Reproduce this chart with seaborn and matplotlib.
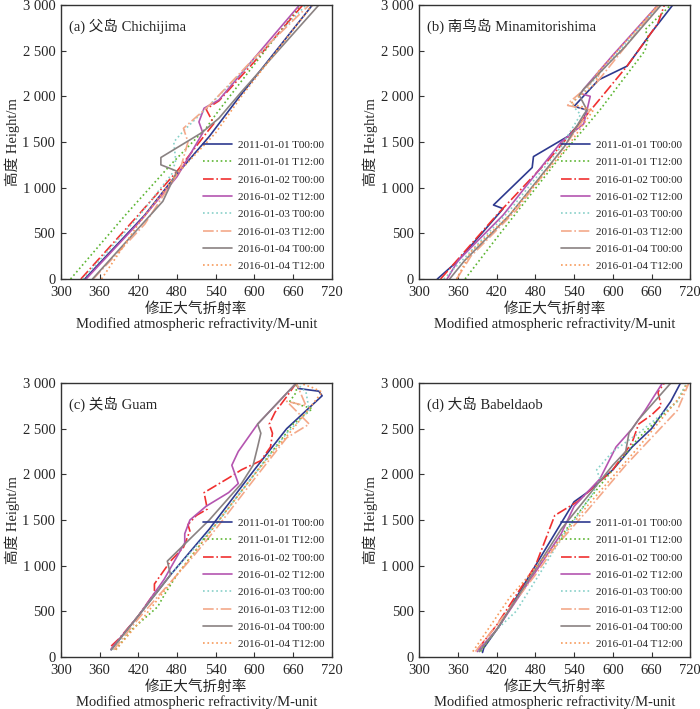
import numpy as np
import pandas as pd
import matplotlib
matplotlib.use('Agg')
import matplotlib.pyplot as plt
import seaborn as sns

sns.set_style('ticks')
plt.rcParams['font.family'] = ['Liberation Serif', 'Noto Sans CJK SC', 'DejaVu Sans']

times = ['2011-01-01 T00:00', '2011-01-01 T12:00', '2016-01-02 T00:00', '2016-01-02 T12:00',
         '2016-01-03 T00:00', '2016-01-03 T12:00', '2016-01-04 T00:00', '2016-01-04 T12:00']
colors = ['#2e3a8f', '#5cb531', '#f03030', '#b455b0', '#86d0c8', '#f4a98a', '#8a8282', '#f79a5a']
styles = ['-', ':', '-.', '-', ':', '-.', '-', ':']

titles = ['(a) 父岛 Chichijima', '(b) 南鸟岛 Minamitorishima', '(c) 关岛 Guam', '(d) 大岛 Babeldaob']

# (a) Chichijima: M-unit / height per sounding
chichijima_m = [
    [337, 430, 480, 530, 575, 600, 690],
    [315, 400, 470, 525, 540, 600, 672],
    [331, 420, 480, 528, 537, 525, 545, 600, 675],
    [339, 425, 480, 520, 514, 522, 545, 600, 670],
    [334, 420, 472, 478, 475, 490, 530, 600, 680],
    [350, 430, 485, 497, 490, 530, 600, 685],
    [349, 458, 480, 455, 455, 518, 545, 580, 700],
    [363, 420, 480, 540, 580, 690],
]
chichijima_h = [
    [0, 700, 1150, 1560, 1980, 2200, 3000],
    [0, 700, 1250, 1650, 1800, 2350, 3000],
    [0, 700, 1180, 1620, 1700, 1860, 1950, 2380, 3000],
    [0, 650, 1120, 1600, 1720, 1870, 1960, 2420, 3000],
    [0, 680, 1150, 1300, 1500, 1620, 1900, 2400, 3000],
    [0, 600, 1200, 1500, 1650, 1900, 2420, 3000],
    [0, 850, 1180, 1250, 1330, 1600, 1760, 2050, 3000],
    [0, 600, 1150, 1600, 2000, 3000],
]

# (b) Minamitorishima
minami_m = [
    [328, 360, 430, 415, 475, 477, 530, 555, 560, 540, 578, 622, 660, 693],
    [371, 420, 520, 580, 650, 655, 650, 690],
    [333, 420, 500, 560, 622, 660, 670, 680],
    [343, 360, 430, 520, 555, 565, 550, 555, 600, 670],
    [338, 370, 440, 520, 550, 540, 535, 555, 610, 672],
    [358, 380, 450, 530, 565, 530, 535, 560, 580, 575, 671],
    [347, 370, 440, 525, 555, 560, 548, 555, 620, 675],
    [358, 380, 440, 530, 570, 535, 545, 575, 575, 605, 670],
]
minami_h = [
    [0, 200, 770, 810, 1220, 1340, 1560, 1750, 1850, 1890, 2180, 2330, 2700, 3000],
    [0, 450, 1350, 1850, 2500, 2650, 2730, 3000],
    [0, 700, 1300, 1800, 2330, 2700, 2800, 3000],
    [0, 200, 700, 1500, 1700, 2000, 2030, 2080, 2450, 3000],
    [0, 230, 750, 1450, 1800, 1880, 1920, 2050, 2500, 3000],
    [0, 250, 750, 1500, 1850, 1900, 1950, 2100, 2280, 2150, 3000],
    [0, 200, 700, 1450, 1800, 1850, 2010, 2080, 2550, 3000],
    [0, 300, 700, 1450, 1850, 1920, 1980, 2150, 2250, 2480, 3000],
]

# (c) Guam
guam_m = [
    [378, 420, 470, 530, 600, 650, 705, 700, 668, 665],
    [385, 410, 450, 462, 480, 540, 600, 660, 690, 670, 655, 665, 665],
    [378, 390, 420, 445, 445, 470, 490, 500, 497, 510, 527, 522, 560, 580, 610, 625, 628, 623, 632, 650, 665],
    [378, 420, 460, 480, 492, 492, 500, 525, 560, 575, 570, 565, 575, 605, 665],
    [380, 420, 470, 540, 600, 650, 685, 680, 665],
    [382, 420, 505, 540, 600, 650, 685, 650, 680, 665],
    [378, 420, 470, 465, 530, 580, 598, 605, 610, 605, 665],
    [385, 430, 480, 540, 600, 660, 705, 690, 670],
]
guam_h = [
    [80, 450, 900, 1400, 2050, 2500, 2860, 2910, 2940, 3000],
    [80, 300, 550, 700, 900, 1450, 2000, 2550, 2720, 2760, 2800, 2900, 3000],
    [120, 200, 450, 700, 800, 1050, 1200, 1380, 1450, 1550, 1620, 1800, 1960, 2050, 2150, 2300, 2450, 2550, 2680, 2850, 3000],
    [90, 450, 850, 1100, 1250, 1350, 1500, 1650, 1800, 1900, 2000, 2100, 2250, 2550, 3000],
    [80, 450, 900, 1450, 2000, 2450, 2700, 2900, 3000],
    [80, 420, 1100, 1400, 1950, 2400, 2550, 2800, 2750, 3000],
    [80, 450, 900, 1050, 1500, 1900, 2100, 2300, 2450, 2550, 3000],
    [80, 450, 900, 1450, 2000, 2500, 2900, 2950, 3000],
]

# (d) Babeldaob
babel_m = [
    [398, 400, 425, 480, 540, 560, 600, 630, 660, 690, 705],
    [395, 420, 480, 560, 640, 700, 715],
    [390, 420, 480, 510, 545, 600, 630, 640, 660, 675, 670, 680],
    [390, 420, 520, 540, 560, 580, 605, 630, 650, 677],
    [392, 420, 450, 490, 520, 570, 580, 575, 600, 640, 700, 715],
    [387, 420, 480, 510, 560, 620, 700, 718],
    [393, 420, 520, 600, 620, 625, 640, 690],
    [383, 440, 520, 560, 640, 710, 715],
]
babel_h = [
    [50, 100, 350, 1000, 1700, 1800, 2050, 2300, 2500, 2800, 3000],
    [60, 300, 950, 1700, 2400, 2800, 3000],
    [80, 350, 1000, 1550, 1700, 2050, 2350, 2550, 2650, 2750, 2900, 3000],
    [60, 300, 1350, 1650, 1800, 1950, 2300, 2500, 2700, 3000],
    [60, 300, 500, 950, 1300, 1800, 1950, 2050, 2250, 2450, 2800, 3000],
    [60, 350, 900, 1200, 1600, 2100, 2700, 3000],
    [60, 300, 1400, 2100, 2250, 2450, 2600, 3000],
    [60, 650, 1300, 1650, 2300, 2900, 3000],
]

panels = [(chichijima_m, chichijima_h), (minami_m, minami_h), (guam_m, guam_h), (babel_m, babel_h)]

fig = plt.figure(figsize=(7, 7.09), dpi=100)
boxes = [[0.087, 0.6065, 0.387, 0.3865], [0.599, 0.6065, 0.387, 0.3865],
         [0.087, 0.0733, 0.387, 0.3865], [0.599, 0.0733, 0.387, 0.3865]]

for k, (ms, hs) in enumerate(panels):
    ax = fig.add_axes(boxes[k])
    for i in range(len(times)):
        df = pd.DataFrame({'M': ms[i], 'H': hs[i]})
        sns.lineplot(data=df, x='M', y='H', sort=False, estimator=None, ax=ax,
                     color=colors[i], linestyle=styles[i], lw=1.2, label=times[i])
    ax.set_xlim(300, 720)
    ax.set_ylim(0, 3000)
    ax.set_xticks(np.arange(300, 721, 60))
    ax.set_yticks(np.arange(0, 3001, 500))
    ax.set_yticklabels(['0', '500', '1 000', '1 500', '2 000', '2 500', '3 000'])
    ax.tick_params(direction='in', labelsize=10.5, length=3.5, color='#333333')
    ax.tick_params(axis='x', pad=5)
    ax.tick_params(axis='y', pad=4)
    for s in ax.spines.values():
        s.set_color('#333333')
        s.set_linewidth(1.0)
    ax.set_xlabel('修正大气折射率\nModified atmospheric refractivity/M-unit', fontsize=10.5, labelpad=2,
                  linespacing=1.15)
    ax.set_ylabel('高度 Height/m', fontsize=10.5, labelpad=2)
    ax.text(0.03, 0.95, titles[k], transform=ax.transAxes, fontsize=10.5, va='top', ha='left')
    ax.legend(loc='lower right', frameon=False, fontsize=8, handlelength=2.6,
              borderaxespad=0.3, handletextpad=0.5, labelspacing=0.68)

fig.savefig('out.png', dpi=100)
